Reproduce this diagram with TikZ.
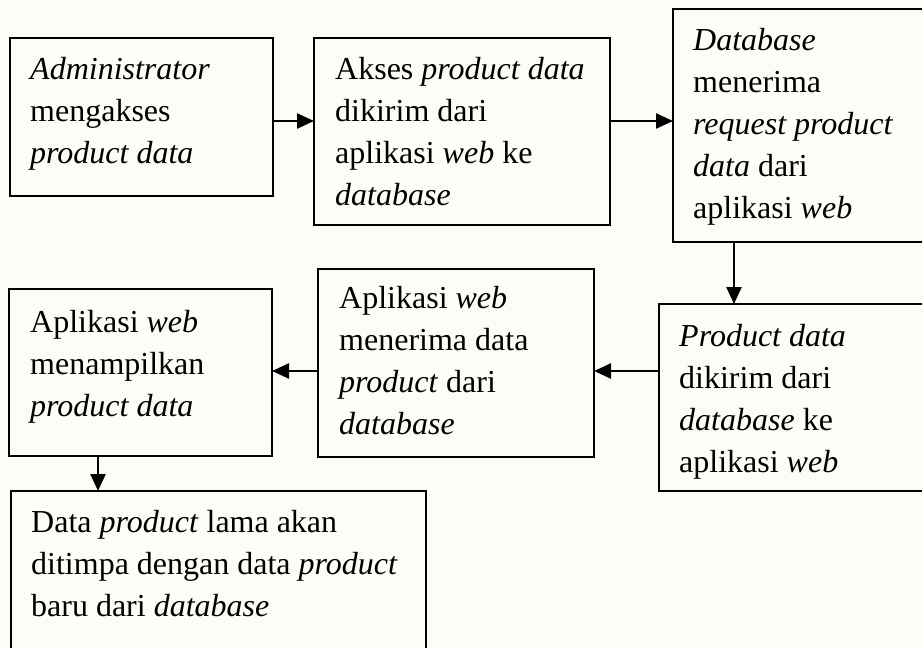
\documentclass[tikz,border=0pt]{standalone}
\usepackage{fontspec}
\setmainfont{Liberation Serif}
\usetikzlibrary{arrows.meta}
\definecolor{paper}{RGB}{253,253,248}
\begin{document}
\begin{tikzpicture}[x=1pt,y=-1pt,
  box/.style={draw=black, line width=2pt, outer sep=0pt, inner sep=0pt, anchor=north west},
  txt/.style={anchor=base west, inner sep=0pt, font=\fontsize{32}{42}\selectfont},
  flow/.style={line width=2.4pt, -{Triangle[length=17pt,width=15pt]}}]
  \useasboundingbox (0,0) rectangle (922,648);
  \fill[paper] (0,0) rectangle (922,648);
  \clip (0,0) rectangle (922,648);

  % process boxes
  \node[box, minimum width=263, minimum height=158] (b1) at (10,38) {};
  \node[box, minimum width=296, minimum height=187] (b2) at (314,38) {};
  \node[box, minimum width=277, minimum height=233] (b3) at (673,9) {};
  \node[box, minimum width=291, minimum height=187] (b4) at (659,304) {};
  \node[box, minimum width=276, minimum height=188] (b5) at (318,269) {};
  \node[box, minimum width=263, minimum height=167] (b6) at (9,289) {};
  \node[box, minimum width=415, minimum height=199] (b7) at (11,491) {};

  % box texts (first baseline given)
  \node[txt] (t1) at (30,79) {\parbox[t]{300pt}{\textit{Administrator}\\mengakses\\\textit{product data}}};
  \node[txt] (t2) at (335,79) {\parbox[t]{300pt}{Akses \textit{product data}\\dikirim dari\\aplikasi \textit{web} ke\\\textit{database}}};
  \node[txt] (t3) at (693,50) {\parbox[t]{300pt}{\textit{Database}\\menerima\\\textit{request product}\\\textit{data} dari\\aplikasi \textit{web}}};
  \node[txt] (t4) at (679,346) {\parbox[t]{300pt}{\textit{Product data}\\dikirim dari\\\textit{database} ke\\aplikasi \textit{web}}};
  \node[txt] (t5) at (339,308) {\parbox[t]{300pt}{Aplikasi \textit{web}\\menerima data\\\textit{product} dari\\\textit{database}}};
  \node[txt] (t6) at (30,332) {\parbox[t]{300pt}{Aplikasi \textit{web}\\menampilkan\\\textit{product data}}};
  \node[txt] (t7) at (31,532) {\parbox[t]{420pt}{Data \textit{product} lama akan\\ditimpa dengan data \textit{product}\\baru dari \textit{database}}};

  % connector levels
  \coordinate (r1) at (0,121);
  \coordinate (r2) at (0,371);
  \coordinate (c34) at (734,0);
  \coordinate (c67) at (98,0);

  \draw[flow] (b1.east |- r1) -- (b2.west |- r1);
  \draw[flow] (b2.east |- r1) -- (b3.west |- r1);
  \draw[flow] (c34 |- b3.south) -- (c34 |- b4.north);
  \draw[flow] (b4.west |- r2) -- (b5.east |- r2);
  \draw[flow] (b5.west |- r2) -- (b6.east |- r2);
  \draw[flow] (c67 |- b6.south) -- (c67 |- b7.north);
\end{tikzpicture}
\end{document}
